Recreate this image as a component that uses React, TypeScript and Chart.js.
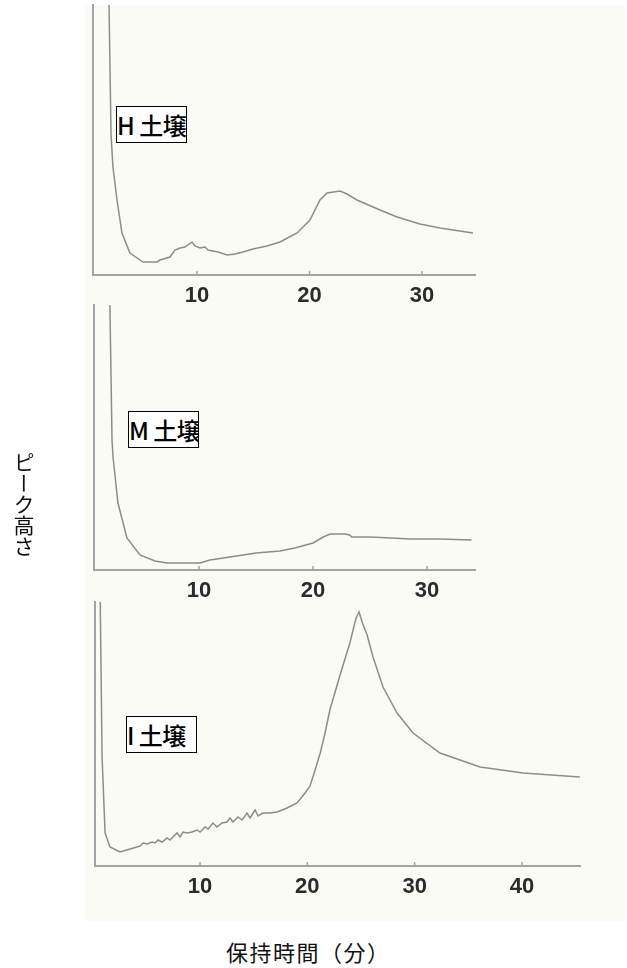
import React, { useEffect, useRef } from "react";
import { Chart, registerables } from "chart.js";

Chart.register(...registerables);

// ---- data (retention time in minutes, peak height in arbitrary units) ----
const hTimes = [2.0, 2.36, 2.53, 2.89, 3.33, 4.04, 5.2, 6.44, 6.71, 7.6, 8.04, 8.49, 8.93, 9.56, 9.82, 10.27, 10.71, 10.98, 11.42, 11.87, 12.67, 13.38, 14.09, 14.98, 16.22, 17.38, 18.9, 20.04, 20.93, 21.56, 22.71, 23.33, 24.22, 26.27, 27.78, 29.82, 31.6, 34.53];
const hHeights = [400, 140, 108, 75, 42, 22, 13, 13, 15, 18, 25, 27, 28, 33, 29, 27, 28, 25, 24, 23, 20, 21, 23, 26, 29, 33, 42, 55, 75, 82, 84, 81, 75, 65, 58, 51, 47, 42];

const mTimes = [2.0, 2.37, 2.46, 2.89, 3.68, 4.82, 6.14, 7.19, 10.09, 10.96, 12.7, 15.0, 17.1, 18.4, 20.0, 20.9, 21.5, 22.8, 23.2, 23.4, 25.0, 26.9, 28.5, 31.1, 33.9];
const mHeights = [400, 130, 113, 67, 32, 15, 9, 7, 7, 10, 13, 17, 19, 22, 27, 33, 36, 36, 35, 33, 33, 32, 31, 31, 30];

const iTimes = [0.55, 0.87, 1.15, 1.61, 2.54, 3.48, 4.41, 4.69, 5.06, 5.53, 5.81, 6.09, 6.46, 6.92, 7.2, 7.48, 7.86, 8.14, 8.42, 8.79, 9.25, 9.72, 10.0, 10.47, 10.75, 11.21, 11.58, 12.05, 12.51, 12.79, 13.07, 13.54, 13.92, 14.38, 14.66, 15.13, 15.41, 15.87, 16.52, 17.18, 18.11, 19.04, 19.79, 20.25, 20.7, 21.2, 21.65, 22.1, 23.05, 23.96, 24.54, 24.82, 25.1, 25.57, 26.12, 27.05, 28.36, 29.85, 32.36, 36.1, 40.1, 45.4];
const iHeights = [400, 109, 33, 19, 14, 17, 20, 23, 22, 24, 23, 26, 24, 28, 26, 29, 33, 29, 34, 33, 34, 36, 34, 39, 37, 43, 39, 43, 44, 48, 44, 49, 46, 53, 48, 56, 50, 53, 53, 54, 58, 63, 73, 80, 95, 113, 133, 156, 191, 223, 248, 254, 244, 231, 209, 179, 153, 133, 113, 99, 93, 89];

const hTicks = [10, 20, 30];
const mTicks = [10, 20, 30];
const iTicks = [10, 20, 30, 40];

const panelLabels = ["H 土壌", "M 土壌", "I 土壌"];
const yTitle = "ピーク高さ";
const xTitle = "保持時間（分）";

// ---- styling ----
const AXIS_COLOR = "#a3a3a3";
const LINE_COLOR = "#8c8c8c";
const TICK_COLOR = "#2b2b2b";

const innerTicks = {
  id: "innerTicks",
  afterDraw(chart: any) {
    const s = chart.scales.x;
    const ctx = chart.ctx;
    ctx.save();
    ctx.strokeStyle = AXIS_COLOR;
    ctx.lineWidth = 1.5;
    s.ticks.forEach((t: any) => {
      const x = s.getPixelForValue(t.value);
      ctx.beginPath();
      ctx.moveTo(x, s.top);
      ctx.lineTo(x, s.top - 4);
      ctx.stroke();
    });
    ctx.restore();
  },
};

type PanelProps = {
  times: number[];
  heights: number[];
  ticks: number[];
  xMin: number;
  xMax: number;
  yMax: number;
  top: number;
  height: number;
  padLeft: number;
  padRight: number;
};

function Panel(p: PanelProps) {
  const ref = useRef<HTMLCanvasElement | null>(null);
  useEffect(() => {
    if (!ref.current) return;
    const chart = new Chart(ref.current, {
      type: "line",
      data: {
        datasets: [
          {
            data: p.times.map((t, i) => ({ x: t, y: p.heights[i] })),
            borderColor: LINE_COLOR,
            borderWidth: 1.5,
            pointRadius: 0,
            tension: 0,
            fill: false,
          },
        ],
      },
      options: {
        animation: false,
        responsive: false,
        maintainAspectRatio: false,
        devicePixelRatio: 1,
        layout: { padding: { left: p.padLeft, right: p.padRight, top: 5, bottom: 0 } },
        plugins: { legend: { display: false }, tooltip: { enabled: false } },
        scales: {
          x: {
            type: "linear",
            min: p.xMin,
            max: p.xMax,
            afterBuildTicks: (s: any) => {
              s.ticks = p.ticks.map((v) => ({ value: v }));
            },
            afterFit: (s: any) => {
              s.height = 34;
            },
            grid: { display: false },
            border: { display: true, color: AXIS_COLOR, width: 2 },
            ticks: {
              padding: 0,
              color: TICK_COLOR,
              autoSkip: false,
              maxRotation: 0,
              font: { family: "'Liberation Sans', Arial, sans-serif", size: 22, weight: "bold" },
            },
          },
          y: {
            min: 0,
            max: p.yMax,
            afterFit: (s: any) => {
              s.width = 0;
            },
            grid: { display: false },
            border: { display: true, color: AXIS_COLOR, width: 2 },
            ticks: { display: false },
          },
        },
      } as any,
      plugins: [innerTicks],
    });
    return () => chart.destroy();
  }, []);
  return (
    <div style={{ position: "absolute", left: 0, top: p.top, width: 627, height: p.height }}>
      <canvas ref={ref} width={627} height={p.height} style={{ display: "block" }} />
    </div>
  );
}

const labelStyle = (left: number, top: number): React.CSSProperties => ({
  position: "absolute",
  left,
  top,
  width: 69,
  height: 35,
  border: "1px solid #000",
  background: "#fff",
  fontFamily: "'Noto Sans CJK JP', sans-serif",
  fontSize: 24,
  fontWeight: 500,
  letterSpacing: "-0.5px",
  lineHeight: "35px",
  color: "#000",
  whiteSpace: "nowrap",
  overflow: "hidden",
  textAlign: "left",
});

export default function App() {
  return (
    <div style={{ position: "absolute", left: 0, top: 0, width: 627, height: 968, background: "#fff" }}>
      <div style={{ position: "absolute", left: 85, top: 5, width: 540, height: 916, background: "#fbfbf6" }} />
      <Panel times={hTimes} heights={hHeights} ticks={hTicks} xMin={0.756} xMax={34.71} yMax={270} top={0} height={309} padLeft={93} padRight={152} />
      <Panel times={mTimes} heights={mHeights} ticks={mTicks} xMin={0.79} xMax={34.21} yMax={265} top={300} height={304} padLeft={94} padRight={152} />
      <Panel times={iTimes} heights={iHeights} ticks={iTicks} xMin={0.21} xMax={45.41} yMax={264} top={597} height={303} padLeft={95} padRight={47} />
      <div style={labelStyle(116, 106)}>{panelLabels[0]}</div>
      <div style={labelStyle(128, 411)}>{panelLabels[1]}</div>
      <div style={labelStyle(126, 716)}>{panelLabels[2]}</div>
      <div
        style={{
          position: "absolute",
          left: 13,
          top: 452,
          writingMode: "vertical-rl",
          fontFamily: "'Noto Sans CJK JP', sans-serif",
          fontSize: 21,
          lineHeight: "22px",
          color: "#111",
        }}
      >
        {yTitle}
      </div>
      <div
        style={{
          position: "absolute",
          left: 226,
          top: 937,
          fontFamily: "'Noto Sans CJK JP', sans-serif",
          fontSize: 22,
          letterSpacing: "1.5px",
          lineHeight: "28px",
          color: "#111",
          whiteSpace: "nowrap",
        }}
      >
        {xTitle}
      </div>
    </div>
  );
}
